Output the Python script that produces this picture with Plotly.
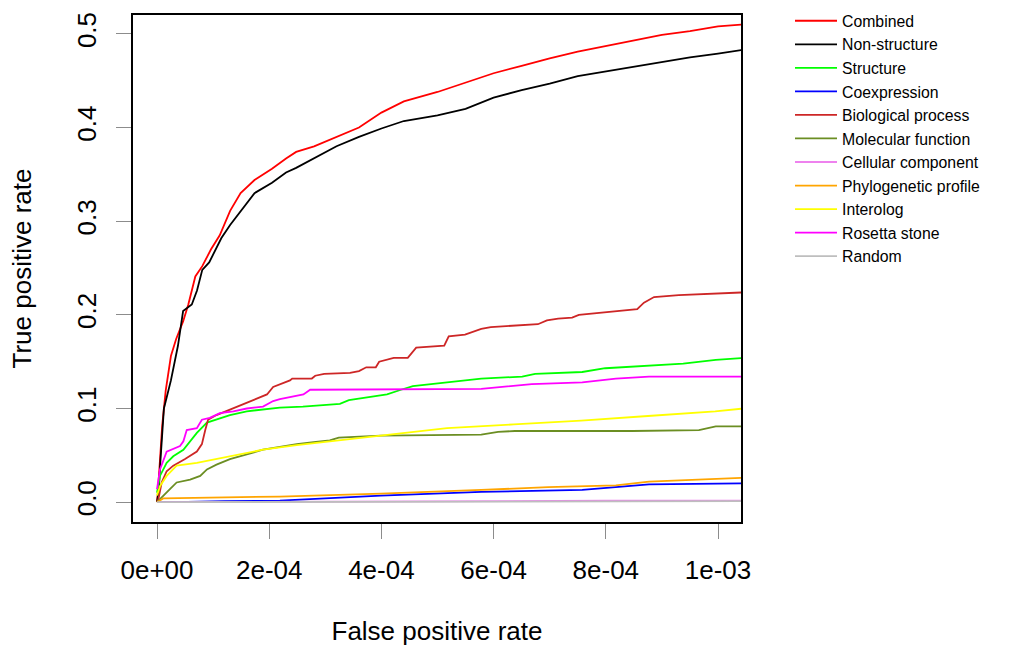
import plotly.graph_objects as go

# ---------------- data ----------------
series_names = ["Combined", "Non-structure", "Structure", "Coexpression",
                "Biological process", "Molecular function", "Cellular component",
                "Phylogenetic profile", "Interolog", "Rosetta stone", "Random"]

combined_fpr = [0, 1.3e-6, 9.3e-6, 1.55e-5, 2.48e-5, 3.4e-5, 4.65e-5, 5.58e-5, 6.83e-5, 8.07e-5,
                9.63e-5, 1.118e-4, 1.303e-4, 1.49e-4, 1.738e-4, 2.05e-4, 2.30e-4, 2.48e-4,
                2.8e-4, 3.2e-4, 3.6e-4, 4.0e-4, 4.4e-4, 5.0e-4, 5.5e-4, 6.0e-4, 6.5e-4,
                7.0e-4, 7.5e-4, 8.0e-4, 8.5e-4, 9.0e-4, 9.5e-4, 1.0e-3, 1.045e-3]
combined_tpr = [0, 0.008, 0.082, 0.119, 0.156, 0.174, 0.193, 0.211, 0.241, 0.252,
                0.270, 0.285, 0.311, 0.330, 0.344, 0.356, 0.367, 0.374,
                0.380, 0.390, 0.400, 0.416, 0.428, 0.438, 0.448, 0.458, 0.466,
                0.474, 0.481, 0.487, 0.493, 0.499, 0.503, 0.508, 0.510]

nonstruct_fpr = [0, 3e-6, 6.2e-6, 1.23e-5, 2.48e-5, 3.73e-5, 4.65e-5, 6.2e-5, 7.13e-5, 8.07e-5,
                 9.3e-5, 1.055e-4, 1.148e-4, 1.303e-4, 1.49e-4, 1.738e-4, 2.05e-4, 2.30e-4, 2.48e-4,
                 2.8e-4, 3.2e-4, 3.6e-4, 4.0e-4, 4.4e-4, 5.0e-4, 5.5e-4, 6.0e-4, 6.5e-4,
                 7.0e-4, 7.5e-4, 8.0e-4, 8.5e-4, 9.0e-4, 9.5e-4, 1.0e-3, 1.045e-3]
nonstruct_tpr = [0, 0.012, 0.045, 0.100, 0.130, 0.167, 0.204, 0.211, 0.226, 0.248,
                 0.256, 0.270, 0.282, 0.296, 0.311, 0.330, 0.341, 0.352, 0.357,
                 0.367, 0.380, 0.390, 0.399, 0.407, 0.413, 0.420, 0.432, 0.440,
                 0.447, 0.455, 0.460, 0.465, 0.470, 0.475, 0.479, 0.483]

structure_fpr = [0, 5.3e-6, 1.72e-5, 2.9e-5, 4.7e-5, 7.1e-5, 8.9e-5, 1.06e-4, 1.30e-4, 1.60e-4,
                 1.89e-4, 2.19e-4, 2.60e-4, 3.26e-4, 3.42e-4, 4.10e-4, 4.35e-4, 4.56e-4, 5.78e-4,
                 6.51e-4, 6.74e-4, 7.58e-4, 7.99e-4, 8.47e-4, 9.38e-4, 9.96e-4, 1.045e-3]
structure_tpr = [0.010, 0.028, 0.042, 0.049, 0.056, 0.074, 0.085, 0.088, 0.093, 0.097,
                 0.099, 0.101, 0.102, 0.105, 0.109, 0.115, 0.120, 0.124, 0.132,
                 0.134, 0.137, 0.139, 0.143, 0.145, 0.148, 0.152, 0.154]

coexp_fpr = [0, 3.2e-5, 1.2e-4, 2.19e-4, 3.99e-4, 5.78e-4, 7.58e-4, 8.77e-4, 1.045e-3]
coexp_tpr = [0, 0, 0.001, 0.0016, 0.007, 0.011, 0.013, 0.019, 0.020]

bioproc_fpr = [0, 2.4e-6, 8.3e-6, 1.72e-5, 2.9e-5, 5.0e-5, 7.1e-5, 8.0e-5, 8.6e-5, 9.1e-5,
               1.06e-4, 1.30e-4, 1.48e-4, 1.66e-4, 1.96e-4, 2.07e-4, 2.37e-4, 2.41e-4, 2.76e-4,
               2.82e-4, 2.98e-4, 3.44e-4, 3.60e-4, 3.73e-4, 3.90e-4, 3.96e-4, 4.22e-4, 4.47e-4,
               4.62e-4, 5.12e-4, 5.20e-4, 5.49e-4, 5.78e-4, 5.95e-4, 6.79e-4, 6.95e-4, 7.15e-4,
               7.40e-4, 7.52e-4, 8.56e-4, 8.68e-4, 8.86e-4, 9.30e-4, 1.045e-3]
bioproc_tpr = [0, 0.003, 0.021, 0.033, 0.039, 0.046, 0.054, 0.062, 0.077, 0.088,
               0.093, 0.099, 0.103, 0.108, 0.115, 0.123, 0.130, 0.132, 0.132,
               0.135, 0.137, 0.138, 0.140, 0.144, 0.144, 0.150, 0.154, 0.154,
               0.165, 0.167, 0.177, 0.179, 0.185, 0.187, 0.190, 0.194, 0.196,
               0.197, 0.200, 0.206, 0.213, 0.219, 0.221, 0.224]

molfunc_fpr = [0, 1.1e-5, 2.3e-5, 3.5e-5, 5.9e-5, 7.7e-5, 8.9e-5, 1.06e-4, 1.30e-4, 1.60e-4,
               1.89e-4, 2.19e-4, 2.49e-4, 2.79e-4, 3.08e-4, 3.24e-4, 3.99e-4, 5.78e-4, 6.08e-4,
               6.38e-4, 8.47e-4, 9.66e-4, 9.96e-4, 1.045e-3]
molfunc_tpr = [0, 0.007, 0.014, 0.021, 0.024, 0.028, 0.035, 0.040, 0.046, 0.051,
               0.056, 0.059, 0.062, 0.064, 0.066, 0.069, 0.071, 0.072, 0.075,
               0.076, 0.076, 0.077, 0.081, 0.081]

cellcomp_fpr = [0, 1.8e-4, 3.0e-4, 4.5e-4, 6.0e-4, 8.0e-4, 1.045e-3]
cellcomp_tpr = [0, 0.0005, 0.0006, 0.0011, 0.0013, 0.0015, 0.0017]

phylo_fpr = [0, 1.1e-5, 2.19e-4, 3.99e-4, 5.78e-4, 6.97e-4, 8.18e-4, 8.77e-4, 1.045e-3]
phylo_tpr = [0, 0.004, 0.006, 0.009, 0.013, 0.016, 0.018, 0.022, 0.026]

interolog_fpr = [0, 5.3e-6, 1.72e-5, 3.5e-5, 7.1e-5, 1.30e-4, 1.89e-4, 2.49e-4, 2.78e-4, 3.98e-4,
                 5.17e-4, 6.36e-4, 7.56e-4, 8.75e-4, 9.95e-4, 1.045e-3]
interolog_tpr = [0.007, 0.017, 0.028, 0.039, 0.042, 0.049, 0.056, 0.061, 0.063, 0.071,
                 0.079, 0.083, 0.087, 0.092, 0.097, 0.100]

rosetta_fpr = [0, 5.3e-6, 1.72e-5, 4.1e-5, 4.7e-5, 5.3e-5, 7.1e-5, 8.0e-5, 9.4e-5, 1.12e-4,
               1.36e-4, 1.60e-4, 1.89e-4, 2.07e-4, 2.19e-4, 2.61e-4, 2.73e-4, 4.87e-4, 5.78e-4,
               6.68e-4, 7.58e-4, 8.18e-4, 8.77e-4, 1.045e-3]
rosetta_tpr = [0.014, 0.035, 0.054, 0.060, 0.065, 0.077, 0.079, 0.088, 0.090, 0.095,
               0.097, 0.100, 0.102, 0.108, 0.110, 0.115, 0.120, 0.121, 0.121,
               0.126, 0.128, 0.132, 0.134, 0.134]

random_fpr = [0, 1.045e-3]
random_tpr = [0, 0.00105]

series_colors = ["#FF0000", "#000000", "#00FF00", "#0000FF", "#CD2626", "#6B8E23",
                 "#EE82EE", "#FFA500", "#FFFF00", "#FF00FF", "#BEBEBE"]

x_tickvals = [0, 2e-4, 4e-4, 6e-4, 8e-4, 1e-3]
x_ticktext = ["0e+00", "2e-04", "4e-04", "6e-04", "8e-04", "1e-03"]
y_tickvals = [0.0, 0.1, 0.2, 0.3, 0.4, 0.5]
y_ticktext = ["0.0", "0.1", "0.2", "0.3", "0.4", "0.5"]

xs = [combined_fpr, nonstruct_fpr, structure_fpr, coexp_fpr, bioproc_fpr, molfunc_fpr,
      cellcomp_fpr, phylo_fpr, interolog_fpr, rosetta_fpr, random_fpr]
ys = [combined_tpr, nonstruct_tpr, structure_tpr, coexp_tpr, bioproc_tpr, molfunc_tpr,
      cellcomp_tpr, phylo_tpr, interolog_tpr, rosetta_tpr, random_tpr]

# ---------------- figure ----------------
FONT = "Liberation Sans, Arial, sans-serif"
W, H = 1011, 653
fig = go.Figure()
for name, x, y, c in zip(series_names, xs, ys, series_colors):
    fig.add_trace(go.Scatter(x=x, y=y, mode="lines", name=name,
                             line=dict(color=c, width=1.8)))

fig.update_layout(
    width=W, height=H,
    margin=dict(l=133, r=270, t=13, b=130, pad=0),
    paper_bgcolor="white", plot_bgcolor="white",
    font=dict(family=FONT, color="black", size=26),
    legend=dict(xref="container", yref="container",
                x=790 / W, y=1 - 4 / H, xanchor="left", yanchor="top",
                font=dict(size=15.8, family=FONT, color="black"),
                bgcolor="rgba(0,0,0,0)", borderwidth=0, itemwidth=42,
                tracegroupgap=0),
    showlegend=True,
)
fig.update_xaxes(range=[-4.28e-5, 1.041e-3], tickvals=x_tickvals, ticktext=x_ticktext,
                 showgrid=False, zeroline=False, showline=True, mirror=True,
                 linecolor="black", linewidth=2, ticks="outside", ticklen=15,
                 tickcolor="#8c8c8c", tickwidth=1, ticklabelstandoff=9,
                 tickfont=dict(size=26),
                 title=dict(text="False positive rate", font=dict(size=26), standoff=38))
fig.update_yaxes(range=[-0.0212, 0.5202], tickvals=y_tickvals, ticktext=y_ticktext,
                 showgrid=False, zeroline=False, showline=True, mirror=True,
                 linecolor="black", linewidth=2, ticks="outside", ticklen=15,
                 tickcolor="#8c8c8c", tickwidth=1, tickangle=-90, ticklabelstandoff=10,
                 tickfont=dict(size=26),
                 title=dict(text="True positive rate", font=dict(size=26), standoff=32))

fig.write_html("out.html")
